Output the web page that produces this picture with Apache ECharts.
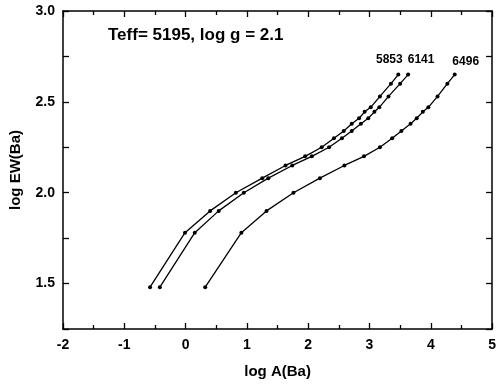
<!DOCTYPE html>
<html>
<head>
<meta charset="utf-8">
<script src="https://cdn.jsdelivr.net/npm/echarts@6/dist/echarts.min.js"></script>
<style>
  html, body { margin: 0; padding: 0; background: #fff; }
  #main { width: 499px; height: 384px; }
</style>
</head>
<body>
<div id="main"></div>
<script>
// log EW(Ba), same steps for all three curves
const logEW = [1.48, 1.78, 1.90, 2.00, 2.08, 2.15, 2.20, 2.25, 2.30, 2.34, 2.38, 2.41, 2.445, 2.47, 2.53, 2.60, 2.65]

// log A(Ba) for each curve
const logA_5853 = [-0.58, -0.01, 0.40, 0.82, 1.25, 1.63, 1.95, 2.22, 2.42, 2.58, 2.71, 2.83, 2.92, 3.02, 3.17, 3.35, 3.47]
const logA_6141 = [-0.42, 0.15, 0.54, 0.95, 1.35, 1.74, 2.06, 2.34, 2.55, 2.71, 2.86, 2.98, 3.08, 3.16, 3.31, 3.50, 3.63]
const logA_6496 = [0.32, 0.91, 1.32, 1.76, 2.19, 2.59, 2.91, 3.17, 3.37, 3.52, 3.67, 3.77, 3.87, 3.96, 4.11, 4.27, 4.39]

const curveNames = ['5853', '6141', '6496']
const xTicks = [-2, -1, 0, 1, 2, 3, 4, 5]
const yTicks = [1.5, 2.0, 2.5, 3.0]

const FONT = 'Liberation Sans, Arial, sans-serif'

// label offsets for the end-of-curve names
const labelOffsets = [[-9, -2], [13, -2], [11, 0]]

function buildSeries(xs, name, idx) {
    const data = xs.map((x, i) => {
        const item = { value: [x, logEW[i]] }
        if (i === xs.length - 1) {
            item.label = {
                show: true,
                position: 'top',
                formatter: name,
                offset: labelOffsets[idx],
                fontFamily: FONT,
                fontWeight: 'bold',
                fontSize: 12,
                color: '#000'
            }
        }
        return item
    })
    return {
        name: name,
        type: 'line',
        data: data,
        symbol: 'circle',
        symbolSize: 4,
        lineStyle: { color: '#000', width: 1.3 },
        itemStyle: { color: '#000' },
        animation: false
    }
}

const chart = echarts.init(document.getElementById('main'))

const axisBase = {
    axisLine: { show: true, onZero: false, lineStyle: { color: '#000', width: 1.5 } },
    axisTick: { show: true, inside: true, length: 6, lineStyle: { color: '#000', width: 1.3 } },
    minorTick: { show: true, splitNumber: 2, length: 4, lineStyle: { color: '#000', width: 1.3 } },
    splitLine: { show: false }
}

chart.setOption({
    backgroundColor: '#fff',
    grid: { left: 61, right: 4, top: 11, bottom: 55 },
    title: {
        text: 'Teff= 5195, log g = 2.1',
        left: 103,
        top: 22,
        textStyle: { fontFamily: FONT, fontWeight: 'bold', fontSize: 17, color: '#000' }
    },
    xAxis: [
        Object.assign({}, axisBase, {
            type: 'value', min: -2, max: 5, interval: 1,
            name: 'log A(Ba)', nameLocation: 'middle', nameGap: 35,
            nameTextStyle: { fontFamily: FONT, fontWeight: 'bold', fontSize: 15, color: '#000' },
            axisLabel: {
                margin: 9, fontFamily: FONT, fontWeight: 'bold', fontSize: 14, color: '#000',
                formatter: v => xTicks.includes(v) ? String(v) : ''
            }
        }),
        Object.assign({}, axisBase, {
            type: 'value', min: -2, max: 5, interval: 1, position: 'top',
            axisLabel: { show: false }
        })
    ],
    yAxis: [
        Object.assign({}, axisBase, {
            type: 'value', min: 1.25, max: 3.0, interval: 0.25,
            minorTick: { show: false },
            name: 'log EW(Ba)', nameLocation: 'middle', nameGap: 40,
            nameTextStyle: { fontFamily: FONT, fontWeight: 'bold', fontSize: 15, color: '#000' },
            axisLabel: {
                margin: 8, fontFamily: FONT, fontWeight: 'bold', fontSize: 14, color: '#000',
                formatter: v => yTicks.some(t => Math.abs(t - v) < 1e-6) ? v.toFixed(1) : ''
            }
        }),
        Object.assign({}, axisBase, {
            type: 'value', min: 1.25, max: 3.0, interval: 0.25, position: 'right',
            minorTick: { show: false },
            axisLabel: { show: false }
        })
    ],
    series: [
        buildSeries(logA_5853, curveNames[0], 0),
        buildSeries(logA_6141, curveNames[1], 1),
        buildSeries(logA_6496, curveNames[2], 2)
    ]
})
</script>
</body>
</html>
